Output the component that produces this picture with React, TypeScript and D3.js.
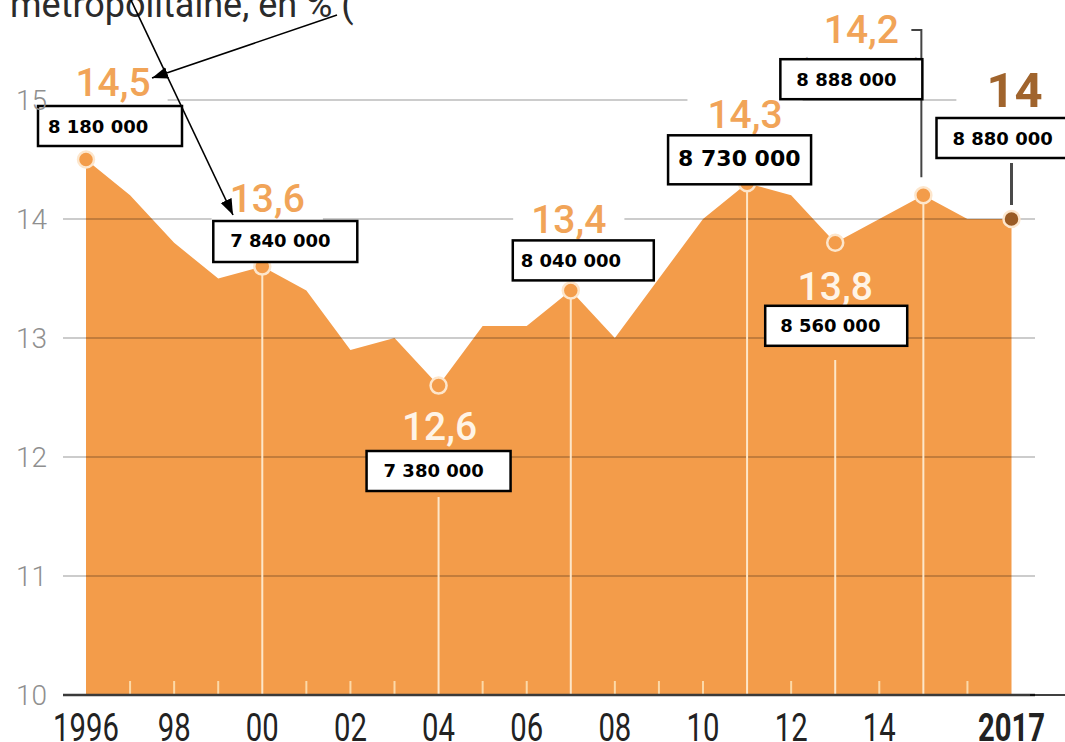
import React, { useEffect, useRef } from 'react';
import * as d3 from 'd3';

// unemployment-style rate, métropole, in %
const years = [1996, 1997, 1998, 1999, 2000, 2001, 2002, 2003, 2004, 2005, 2006, 2007, 2008, 2009, 2010, 2011, 2012, 2013, 2014, 2015, 2016, 2017];
const rates = [14.5, 14.2, 13.8, 13.5, 13.6, 13.4, 12.9, 13.0, 12.6, 13.1, 13.1, 13.4, 13.0, 13.5, 14.0, 14.3, 14.2, 13.8, 14.0, 14.2, 14.0, 14.0];

const yTicks = [10, 11, 12, 13, 14, 15];
const xTickYears = [1996, 1998, 2000, 2002, 2004, 2006, 2008, 2010, 2012, 2014, 2017];
const xTickLabels = ['1996', '98', '00', '02', '04', '06', '08', '10', '12', '14', '2017'];

const highlightYears = [1996, 2000, 2004, 2007, 2011, 2013, 2015, 2017];
const populations = ['8 180 000', '7 840 000', '7 380 000', '8 040 000', '8 730 000', '8 560 000', '8 888 000', '8 880 000'];
const hiddenNote = '(8 888 000)';
const titleText = 'métropolitaine, en % (';

const W = 1065;
const H = 742;

// annotation placement, relative to the highlighted point
const layout = [
  { kind: 'orange', lx: 27, ly: -64, pad: 17, bx: -48, by: -53.5, bw: 144, bh: 40, tx: 10, ty: 27, fs: 18, vline: 'none' },
  { kind: 'orange', lx: 5, ly: -55, pad: 18, bx: -49, by: -45.6, bw: 144, bh: 41, tx: 17, ty: 26, fs: 18, vline: 'point' },
  { kind: 'white', lx: 1, ly: 54, pad: 0, bx: -72, by: 65.4, bw: 144, bh: 40, tx: 17, ty: 26, fs: 18, vline: 497 },
  { kind: 'orange', lx: -2, ly: -57, pad: 18, bx: -58, by: -50, bw: 141, bh: 40, tx: 8, ty: 27, fs: 18, vline: 'point' },
  { kind: 'orange', lx: -2, ly: -55, pad: 20, bx: -79, by: -48, bw: 143, bh: 49, tx: 10, ty: 31, fs: 22, vline: 'point' },
  { kind: 'white', lx: 0, ly: 57, pad: 0, bx: -70, by: 63, bw: 142, bh: 40, tx: 15, ty: 26, fs: 18, vline: 360 },
  { kind: 'orange', lx: -62, ly: -152, pad: 4, bx: -143, by: -136, bw: 142, bh: 40, tx: 16, ty: 27, fs: 18, vline: 'point' },
  { kind: 'final', lx: 3, ly: -112, pad: 30, bx: -75, by: -101, bw: 140, bh: 40, tx: 16, ty: 27, fs: 18, vline: 'none' },
];

const fmt = (v: number) => (Number.isInteger(v) ? String(v) : v.toFixed(1).replace('.', ','));

const App: React.FC = () => {
  const svgRef = useRef<SVGSVGElement>(null);

  useEffect(() => {
    if (!svgRef.current) return;
    const svg = d3.select(svgRef.current);
    svg.selectAll('*').remove();

    const x = d3.scaleLinear().domain([1996, 2017]).range([86, 1011.5]);
    const y = d3.scaleLinear().domain([10, 15]).range([695, 100]);
    const data = years.map((yr, i) => ({ yr, v: rates[i] }));

    const defs = svg.append('defs');
    defs.append('clipPath').attr('id', 'title-clip')
      .append('rect').attr('x', 0).attr('y', 0).attr('width', 357).attr('height', 40);
    defs.append('marker')
      .attr('id', 'arrowhead')
      .attr('markerUnits', 'userSpaceOnUse')
      .attr('markerWidth', 18)
      .attr('markerHeight', 14)
      .attr('refX', 16)
      .attr('refY', 6)
      .attr('orient', 'auto')
      .append('path')
      .attr('d', 'M0,0 L16,6 L0,12 Z')
      .attr('fill', '#000');

    // title (cropped at the top)
    svg.append('text')
      .attr('x', 10)
      .attr('y', 17)
      .attr('clip-path', 'url(#title-clip)')
      .style('font-family', 'Roboto, sans-serif')
      .style('font-size', '36px')
      .style('fill', '#2b2b2b')
      .text(titleText);

    // area
    const area = d3.area<{ yr: number; v: number }>()
      .x(d => x(d.yr))
      .y0(y(10))
      .y1(d => y(d.v));
    svg.append('path').datum(data).attr('d', area).attr('fill', '#f39c4a');

    // gridlines
    svg.append('g').selectAll('line')
      .data(yTicks.filter(t => t > 10))
      .join('line')
      .attr('x1', 63).attr('x2', 1035)
      .attr('y1', d => y(d)).attr('y2', d => y(d))
      .attr('stroke', 'rgba(0,0,0,0.2)')
      .attr('stroke-width', 2);

    // small year ticks
    svg.append('g').selectAll('line')
      .data(years.filter(yr => !highlightYears.includes(yr)))
      .join('line')
      .attr('x1', d => x(d)).attr('x2', d => x(d))
      .attr('y1', y(10) - 14).attr('y2', y(10))
      .attr('stroke', '#fcd9a8')
      .attr('stroke-width', 2);

    // vertical lines from highlighted points
    highlightYears.forEach((yr, i) => {
      const L = layout[i];
      if (L.vline === 'none') return;
      const v = rates[years.indexOf(yr)];
      const top = L.vline === 'point' ? y(v) : (L.vline as number);
      svg.append('line')
        .attr('x1', x(yr)).attr('x2', x(yr))
        .attr('y1', top).attr('y2', y(10))
        .attr('stroke', '#fde6c8')
        .attr('stroke-width', 2);
    });

    // baseline
    svg.append('line')
      .attr('x1', 63).attr('x2', 1035).attr('y1', y(10)).attr('y2', y(10))
      .attr('stroke', '#3a3a3a').attr('stroke-width', 2.5);
    svg.append('line')
      .attr('x1', 1030).attr('x2', W).attr('y1', y(10)).attr('y2', y(10))
      .attr('stroke', '#000').attr('stroke-width', 1.5);

    // value labels
    const bgLayer = svg.append('g');
    const labelLayer = svg.append('g');
    highlightYears.forEach((yr, i) => {
      const L = layout[i];
      const v = rates[years.indexOf(yr)];
      const px = x(yr);
      const py = y(v);
      const isFinal = L.kind === 'final';
      const t = labelLayer.append('text')
        .attr('x', px + L.lx)
        .attr('y', py + L.ly)
        .attr('text-anchor', 'middle')
        .style('font-family', 'Roboto, sans-serif')
        .style('font-size', isFinal ? '49px' : '39px')
        .style('font-weight', isFinal ? '700' : '500')
        .style('fill', L.kind === 'white' ? '#fff4e6' : isFinal ? '#a0642d' : '#f1a458')
        .text(fmt(v));
      if (L.kind !== 'white') {
        const bb = (t.node() as SVGTextElement).getBBox();
        bgLayer.append('rect')
          .attr('x', bb.x - L.pad)
          .attr('y', bb.y)
          .attr('width', bb.width + L.pad * 2)
          .attr('height', bb.height + 3)
          .attr('fill', '#fff');
      }
    });

    // partly hidden note under 14,2
    const i2015 = highlightYears.indexOf(2015);
    svg.append('text')
      .attr('x', x(2015) + layout[i2015].lx)
      .attr('y', 76)
      .attr('text-anchor', 'middle')
      .style('font-family', 'Roboto, sans-serif')
      .style('font-size', '24px')
      .style('fill', '#b5b5b5')
      .text(hiddenNote);

    // leader lines
    const p15 = { x: x(2015), y: y(rates[years.indexOf(2015)]) };
    svg.append('path')
      .attr('d', `M${p15.x - 12},30 H${p15.x - 2} V${p15.y - 18}`)
      .attr('fill', 'none')
      .attr('stroke', '#444')
      .attr('stroke-width', 2);
    const p17 = { x: x(2017), y: y(rates[years.indexOf(2017)]) };
    svg.append('line')
      .attr('x1', p17.x).attr('x2', p17.x)
      .attr('y1', p17.y - 56).attr('y2', p17.y - 14)
      .attr('stroke', '#4a4a4a')
      .attr('stroke-width', 3);

    // markers
    svg.append('g').selectAll('circle')
      .data(highlightYears)
      .join('circle')
      .attr('cx', d => x(d))
      .attr('cy', d => y(rates[years.indexOf(d)]))
      .attr('r', 8)
      .attr('fill', d => (d === 2017 ? '#9a5b24' : '#f39c4a'))
      .attr('stroke', '#fde6cc')
      .attr('stroke-width', 2.5);

    // population boxes
    highlightYears.forEach((yr, i) => {
      const L = layout[i];
      const v = rates[years.indexOf(yr)];
      const bx = x(yr) + L.bx;
      const by = y(v) + L.by;
      svg.append('rect')
        .attr('x', bx).attr('y', by)
        .attr('width', L.bw).attr('height', L.bh)
        .attr('fill', '#fff')
        .attr('stroke', '#000')
        .attr('stroke-width', 2.5);
      svg.append('text')
        .attr('x', bx + L.tx)
        .attr('y', by + L.ty)
        .style('font-family', '"DejaVu Sans", Verdana, sans-serif')
        .style('font-weight', '700')
        .style('font-size', `${L.fs}px`)
        .style('fill', '#000')
        .text(populations[i]);
    });

    // arrows
    svg.append('line')
      .attr('x1', 337).attr('y1', 15).attr('x2', 152).attr('y2', 78)
      .attr('stroke', '#000').attr('stroke-width', 1.6)
      .attr('marker-end', 'url(#arrowhead)');
    svg.append('line')
      .attr('x1', 130).attr('y1', -2).attr('x2', 233).attr('y2', 215)
      .attr('stroke', '#000').attr('stroke-width', 1.6)
      .attr('marker-end', 'url(#arrowhead)');

    // y axis labels
    svg.append('g').selectAll('text')
      .data(yTicks)
      .join('text')
      .attr('x', 16)
      .attr('y', d => y(d) + 10)
      .style('font-family', 'Roboto, sans-serif')
      .style('font-weight', '300')
      .style('font-size', '28px')
      .style('fill', '#8f8f8f')
      .text(d => String(d));

    // x axis labels (condensed)
    svg.append('g').selectAll('text')
      .data(xTickYears)
      .join('text')
      .attr('transform', d => `translate(${x(d)},741) scale(0.77,1)`)
      .attr('text-anchor', 'middle')
      .style('font-family', 'Roboto, sans-serif')
      .style('font-size', '38px')
      .style('font-weight', (d, i) => (i === xTickYears.length - 1 ? '700' : '400'))
      .style('fill', '#222')
      .text((d, i) => xTickLabels[i]);
  }, []);

  return (
    <svg
      ref={svgRef}
      width={W}
      height={H}
      style={{ position: 'absolute', left: 0, top: 0, display: 'block', background: '#fff' }}
    />
  );
};

export default App;
